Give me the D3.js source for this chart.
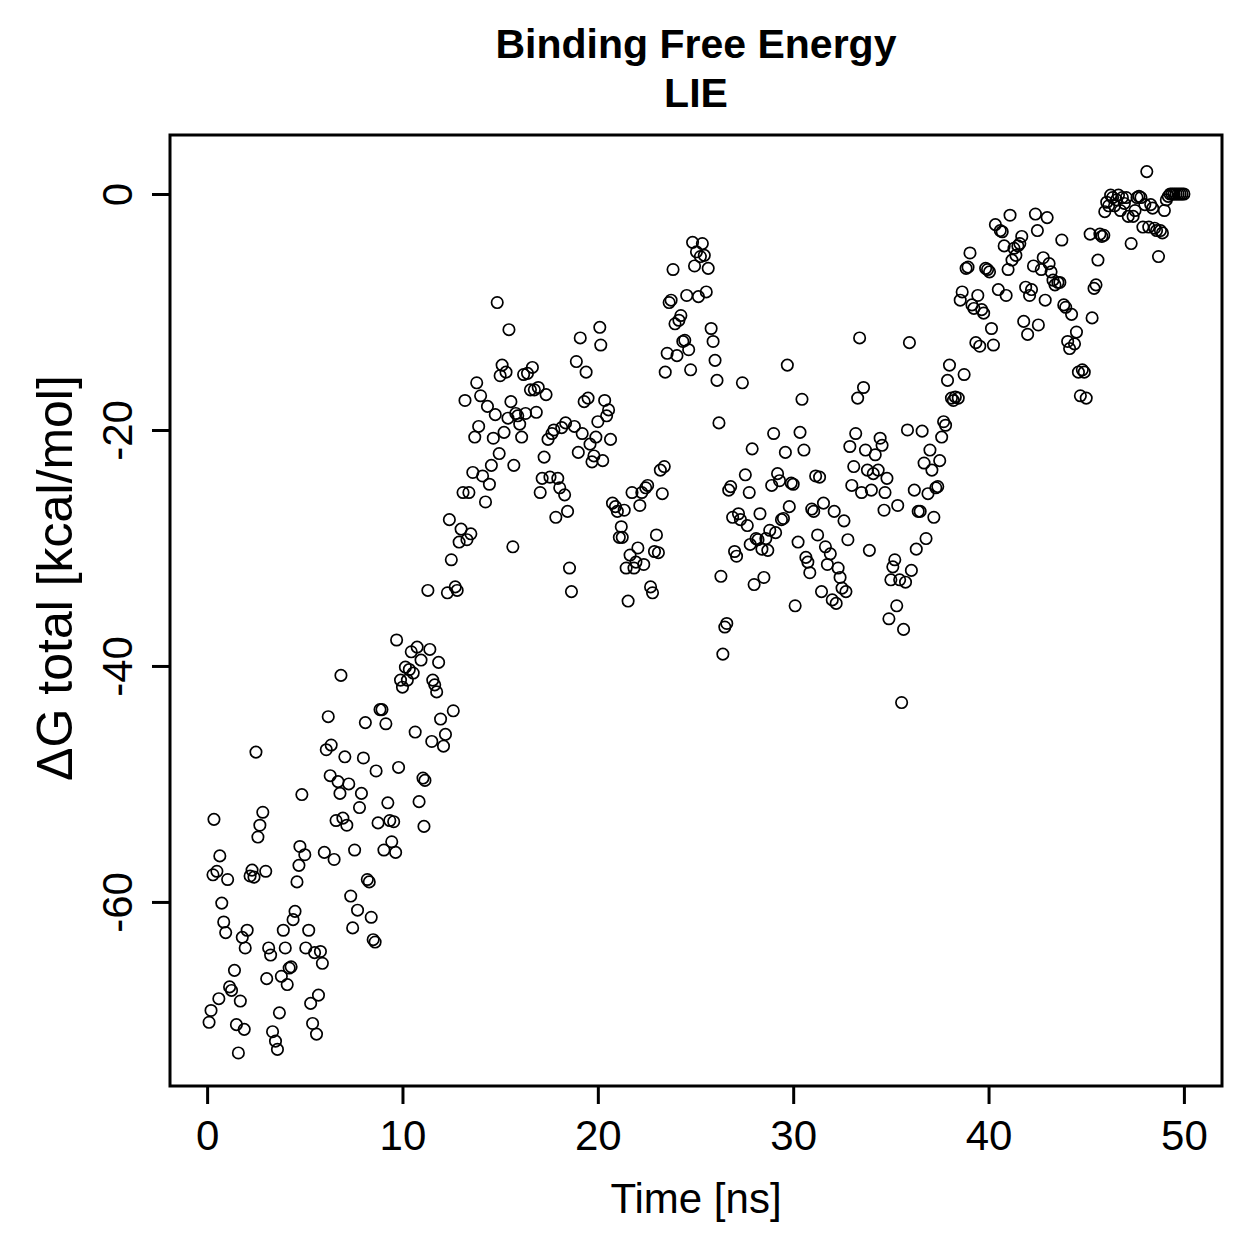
<!DOCTYPE html>
<html>
<head>
<meta charset="utf-8">
<script src="https://d3js.org/d3.v7.min.js"></script>
<style>
body { margin: 0; background: #fff; }
text { font-family: "Liberation Sans", Arial, sans-serif; fill: #000; }
</style>
</head>
<body>
<div id="chart-area"></div>
<script>
// data
var timeNs = [
  0.1,0.2,0.3,0.35,0.5,0.6,0.65,0.75,0.85,0.95,1.05,1.15,1.25,1.4,1.5,1.6,1.7,1.8,1.9,1.95,
  2.05,2.2,2.3,2.4,2.5,2.6,2.7,2.85,3.0,3.05,3.15,3.25,3.35,3.5,3.6,3.7,3.8,3.9,4.0,4.1,
  4.2,4.3,4.4,4.5,4.6,4.7,4.75,4.85,5.0,5.05,5.2,5.3,5.4,5.5,5.6,5.7,5.8,5.9,
  6.0,6.1,6.2,6.3,6.35,6.5,6.6,6.7,6.8,6.85,6.95,7.05,7.15,7.25,7.35,7.45,7.55,7.7,7.8,7.9,
  8.0,8.1,8.2,8.3,8.4,8.5,8.6,8.65,8.75,8.85,8.95,9.05,9.15,9.25,9.35,9.45,9.55,9.65,9.7,9.8,
  9.9,10.0,10.15,10.25,10.35,10.45,10.55,10.65,10.75,10.85,10.95,11.05,11.1,11.15,11.3,11.4,11.5,11.55,11.65,11.75,
  11.85,11.95,12.1,12.2,12.3,12.4,12.5,12.6,12.7,12.8,12.9,13.0,13.1,13.2,13.3,13.4,13.5,13.6,13.7,13.8,
  13.9,14.0,14.1,14.25,14.35,14.45,14.55,14.65,14.75,14.85,14.95,15.0,15.1,15.2,15.3,15.4,15.45,15.55,15.65,15.7,
  15.8,15.9,16.0,16.1,16.2,16.3,16.4,16.55,16.65,16.75,16.85,16.95,17.05,17.15,17.25,17.35,17.45,17.55,17.65,17.75,
  17.85,17.95,18.05,18.15,18.3,18.35,18.45,18.55,18.65,18.8,18.9,19.0,19.1,19.2,19.3,19.4,19.5,19.6,19.7,19.8,
  19.9,20.0,20.1,20.15,20.25,20.35,20.45,20.55,20.65,20.75,20.9,21.0,21.1,21.2,21.25,21.35,21.45,21.55,21.65,21.75,
  21.85,21.95,22.05,22.15,22.25,22.35,22.45,22.55,22.7,22.8,22.9,23.0,23.1,23.2,23.3,23.4,23.45,23.55,23.65,23.75,
  23.85,23.95,24.05,24.15,24.25,24.35,24.45,24.55,24.65,24.75,24.85,24.95,25.05,25.15,25.25,25.35,25.45,25.55,25.65,25.8,
  25.9,26.0,26.1,26.2,26.3,26.4,26.5,26.6,26.7,26.8,26.9,27.0,27.1,27.2,27.3,27.4,27.55,27.65,27.75,27.8,
  27.9,28.0,28.1,28.2,28.3,28.4,28.5,28.6,28.7,28.8,28.9,29.0,29.1,29.2,29.3,29.4,29.5,29.6,29.7,29.8,
  29.9,30.0,30.1,30.25,30.35,30.45,30.55,30.65,30.75,30.85,30.95,31.05,31.15,31.25,31.35,31.45,31.55,31.65,31.75,31.9,
  32.0,32.1,32.2,32.3,32.4,32.5,32.6,32.7,32.8,32.9,33.0,33.1,33.2,33.3,33.4,33.5,33.6,33.7,33.8,33.9,
  34.0,34.1,34.2,34.35,34.45,34.55,34.65,34.7,34.8,34.9,35.0,35.1,35.2,35.3,35.35,35.45,35.55,35.65,35.75,35.85,
  35.95,36.05,36.2,36.3,36.4,36.5,36.6,36.7,36.8,36.9,37.0,37.1,37.2,37.3,37.4,37.5,37.6,37.7,37.8,37.9,
  38.0,38.1,38.2,38.3,38.45,38.55,38.65,38.75,38.85,38.95,39.05,39.15,39.25,39.35,39.45,39.55,39.65,39.75,39.85,39.95,
  40.05,40.15,40.25,40.35,40.5,40.6,40.7,40.8,40.9,41.0,41.1,41.2,41.3,41.4,41.5,41.6,41.7,41.8,41.9,42.0,
  42.1,42.2,42.3,42.4,42.5,42.55,42.7,42.8,42.9,43.0,43.1,43.2,43.3,43.4,43.55,43.65,43.75,43.85,43.95,44.05,
  44.15,44.25,44.4,44.5,44.6,44.7,44.8,44.9,45.0,45.2,45.3,45.4,45.5,45.6,45.7,45.8,45.9,45.95,46.05,46.15,
  46.25,46.35,46.45,46.55,46.65,46.75,46.85,46.95,47.05,47.15,47.3,47.4,47.5,47.6,47.7,47.8,47.9,48.0,48.1,48.2,
  48.3,48.4,48.5,48.6,48.7,48.8,48.9,49.0,49.1,49.2,49.3,49.4,49.5,49.6,49.7,49.8,49.9,50.0
];
var dG = [
  -70.2,-69.2,-57.7,-53.0,-57.4,-68.2,-56.1,-60.1,-61.7,-62.6,-58.1,-67.2,-67.5,-65.8,-70.4,-72.8,-68.4,-63.0,-70.8,-63.9,
  -62.4,-57.8,-57.3,-57.9,-47.3,-54.5,-53.5,-52.4,-57.4,-66.5,-63.9,-64.5,-71.0,-71.8,-72.5,-69.4,-66.3,-62.4,-63.9,-67.0,
  -65.6,-65.5,-61.5,-60.8,-58.3,-56.9,-55.3,-50.9,-56.0,-63.9,-62.4,-68.6,-70.3,-64.3,-71.2,-67.9,-64.2,-65.2,
  -55.8,-47.1,-44.3,-49.3,-46.7,-56.4,-53.1,-49.8,-50.8,-40.8,-52.9,-47.7,-53.5,-50.0,-59.5,-62.2,-55.6,-60.7,-52.0,-50.8,
  -47.8,-44.8,-58.1,-58.3,-61.3,-63.2,-63.4,-48.9,-53.3,-43.7,-43.7,-55.6,-44.9,-51.6,-53.1,-54.9,-53.2,-55.8,-37.8,-48.6,
  -41.2,-41.8,-40.1,-41.2,-40.3,-38.8,-40.6,-45.6,-38.4,-51.5,-39.5,-49.5,-53.6,-49.7,-33.6,-38.6,-46.4,-41.2,-41.6,-42.2,
  -39.7,-44.5,-46.8,-45.8,-33.8,-27.6,-31.0,-43.8,-33.3,-33.6,-29.5,-28.4,-25.3,-17.5,-29.3,-25.3,-28.8,-23.6,-20.6,-16.0,
  -19.7,-17.1,-23.9,-26.1,-18.0,-24.6,-23.0,-20.7,-18.7,-9.2,-22.0,-15.4,-14.5,-20.2,-15.1,-19.0,-11.5,-17.6,-29.9,-23.0,
  -18.6,-18.8,-19.5,-20.6,-15.3,-18.6,-15.2,-16.6,-14.7,-16.6,-18.5,-16.4,-25.3,-24.1,-22.3,-17.0,-20.8,-24.0,-20.3,-20.0,
  -27.4,-24.1,-24.9,-19.8,-25.5,-19.4,-26.9,-31.7,-33.7,-19.7,-14.2,-21.9,-12.2,-20.3,-17.6,-15.1,-17.3,-21.2,-22.7,-22.2,
  -20.6,-19.3,-11.3,-12.8,-22.6,-17.5,-18.8,-18.3,-20.8,-26.2,-26.5,-26.9,-29.1,-28.2,-29.1,-26.8,-31.7,-34.5,-30.6,-25.3,
  -31.7,-31.2,-30.0,-26.4,-25.3,-31.4,-24.9,-24.7,-33.3,-33.8,-30.3,-28.9,-30.4,-23.4,-25.4,-23.1,-15.1,-13.5,-9.2,-9.0,
  -6.4,-11.0,-13.7,-10.7,-10.3,-12.5,-12.4,-8.6,-13.2,-14.9,-4.1,-6.1,-4.9,-8.7,-5.3,-4.2,-5.2,-8.3,-6.3,-11.4,
  -12.5,-14.1,-15.8,-19.4,-32.4,-39.0,-36.7,-36.4,-25.1,-24.8,-27.4,-30.3,-30.7,-27.1,-27.6,-16.0,-23.8,-28.1,-25.3,-29.7,
  -21.6,-33.1,-29.2,-29.3,-27.1,-30.1,-32.5,-29.2,-30.2,-28.5,-24.7,-20.3,-28.7,-23.7,-24.3,-27.6,-27.5,-21.9,-14.5,-26.5,
  -24.5,-24.6,-34.9,-29.5,-20.2,-17.4,-21.7,-30.8,-31.2,-32.1,-26.7,-26.9,-23.9,-28.9,-24.0,-33.7,-26.2,-29.9,-31.4,-30.5,
  -34.4,-26.9,-34.7,-31.7,-32.5,-33.4,-27.7,-33.7,-29.3,-21.4,-24.7,-23.1,-20.3,-17.3,-12.2,-25.3,-16.4,-21.7,-23.4,-30.2,
  -25.1,-23.7,-22.1,-23.4,-20.7,-21.3,-26.8,-25.3,-24.1,-36.0,-32.7,-31.6,-31.0,-34.9,-26.4,-32.7,-43.1,-36.9,-32.9,-20.0,
  -12.6,-31.9,-25.1,-30.1,-26.9,-26.9,-20.1,-22.8,-29.2,-25.4,-21.7,-23.4,-27.4,-24.9,-24.8,-22.6,-20.6,-19.3,-19.6,-15.8,
  -14.5,-17.3,-17.5,-17.2,-17.3,-9.0,-8.3,-15.3,-6.3,-6.2,-5.0,-9.4,-9.7,-12.6,-8.6,-12.9,-9.8,-10.1,-6.3,-6.4,
  -6.6,-11.4,-12.8,-2.6,-8.1,-3.1,-3.2,-4.4,-8.6,-6.4,-1.8,-5.6,-4.6,-5.2,-4.4,-4.2,-3.6,-10.8,-7.9,-11.9,
  -8.6,-8.1,-6.1,-1.7,-3.1,-11.1,-6.4,-5.4,-9.0,-2.0,-5.9,-6.6,-7.3,-7.7,-7.5,-7.5,-3.9,-9.4,-9.6,-12.5,
  -13.1,-10.2,-12.7,-11.7,-15.1,-17.1,-14.9,-15.1,-17.3,-3.4,-10.5,-8.0,-7.7,-5.6,-3.4,-3.6,-3.5,-1.5,-0.7,-1.0,
  -0.1,-0.3,-1.0,-0.5,-0.1,-1.4,-0.3,-0.8,-0.3,-1.9,-4.2,-1.9,-1.4,-0.3,-0.2,-0.3,-2.8,-0.9,1.9,-2.8,
  -0.9,-1.2,-2.9,-3.1,-5.3,-3.1,-3.3,-1.4,-0.5,-0.2,0.0,0.0,0.0,0.0,0.0,0.0,0.0,0.0
];
var xTicks = [0, 10, 20, 30, 40, 50];
var yTicks = [0, -20, -40, -60];
var titleLines = ["Binding Free Energy", "LIE"];

var width = 1259, height = 1259;
var box = { left: 170, right: 1222, top: 135, bottom: 1086 };

var svg = d3.select("#chart-area")
    .append("svg")
        .attr("width", width)
        .attr("height", height);

// Scales (R style: 4% padding around data range)
var x = d3.scaleLinear()
    .domain([-1.9, 51.95])
    .range([box.left, box.right]);
var y = d3.scaleLinear()
    .domain([5.0, -75.6])
    .range([box.top, box.bottom]);

// Points
var points = timeNs.map(function(t, i){ return { t: t, v: dG[i] }; });
svg.append("g")
    .selectAll("circle")
    .data(points)
    .enter()
    .append("circle")
        .attr("cx", function(d){ return x(d.t); })
        .attr("cy", function(d){ return y(d.v); })
        .attr("r", 5.7)
        .attr("fill", "none")
        .attr("stroke", "#000")
        .attr("stroke-width", 1.7);

// X Axis
var xAxisCall = d3.axisBottom(x)
    .tickValues(xTicks)
    .tickSize(18)
    .tickPadding(16)
    .tickFormat(function(d){ return String(d); });
var xAxis = svg.append("g")
    .attr("transform", "translate(0," + box.bottom + ")")
    .call(xAxisCall);
xAxis.select(".domain").remove();
xAxis.selectAll("line").attr("stroke-width", 3);
xAxis.selectAll("text")
    .attr("font-size", "42px")
    .attr("font-family", "Liberation Sans, Arial, sans-serif");

// Y Axis, labels turned like R's las=0 (plain hyphen minus)
var yAxisCall = d3.axisLeft(y)
    .tickValues(yTicks)
    .tickSize(18)
    .tickFormat(function(d){ return String(d); });
var yAxis = svg.append("g")
    .attr("transform", "translate(" + box.left + ",0)")
    .call(yAxisCall);
yAxis.select(".domain").remove();
yAxis.selectAll("line").attr("stroke-width", 3);
yAxis.selectAll("text")
    .attr("x", 0)
    .attr("y", -38)
    .attr("dy", null)
    .attr("text-anchor", "middle")
    .attr("transform", "rotate(-90)")
    .attr("font-size", "42px")
    .attr("font-family", "Liberation Sans, Arial, sans-serif");

// Box
svg.append("rect")
    .attr("x", box.left)
    .attr("y", box.top)
    .attr("width", box.right - box.left)
    .attr("height", box.bottom - box.top)
    .attr("fill", "none")
    .attr("stroke", "#000")
    .attr("stroke-width", 3);

// Title
svg.selectAll(".title")
    .data(titleLines)
    .enter()
    .append("text")
        .attr("class", "title")
        .attr("x", (box.left + box.right) / 2)
        .attr("y", function(d, i){ return 58 + i * 49; })
        .attr("text-anchor", "middle")
        .attr("font-size", "41px")
        .attr("font-weight", "bold")
        .text(function(d){ return d; });

// Labels
svg.append("text")
    .attr("x", (box.left + box.right) / 2)
    .attr("y", 1213)
    .attr("text-anchor", "middle")
    .attr("font-size", "42px")
    .text("Time [ns]");
svg.append("text")
    .attr("transform", "translate(72," + 578 + ") rotate(-90)")
    .attr("text-anchor", "middle")
    .attr("font-size", "50px")
    .text("\u0394G total [kcal/mol]");
</script>
</body>
</html>
